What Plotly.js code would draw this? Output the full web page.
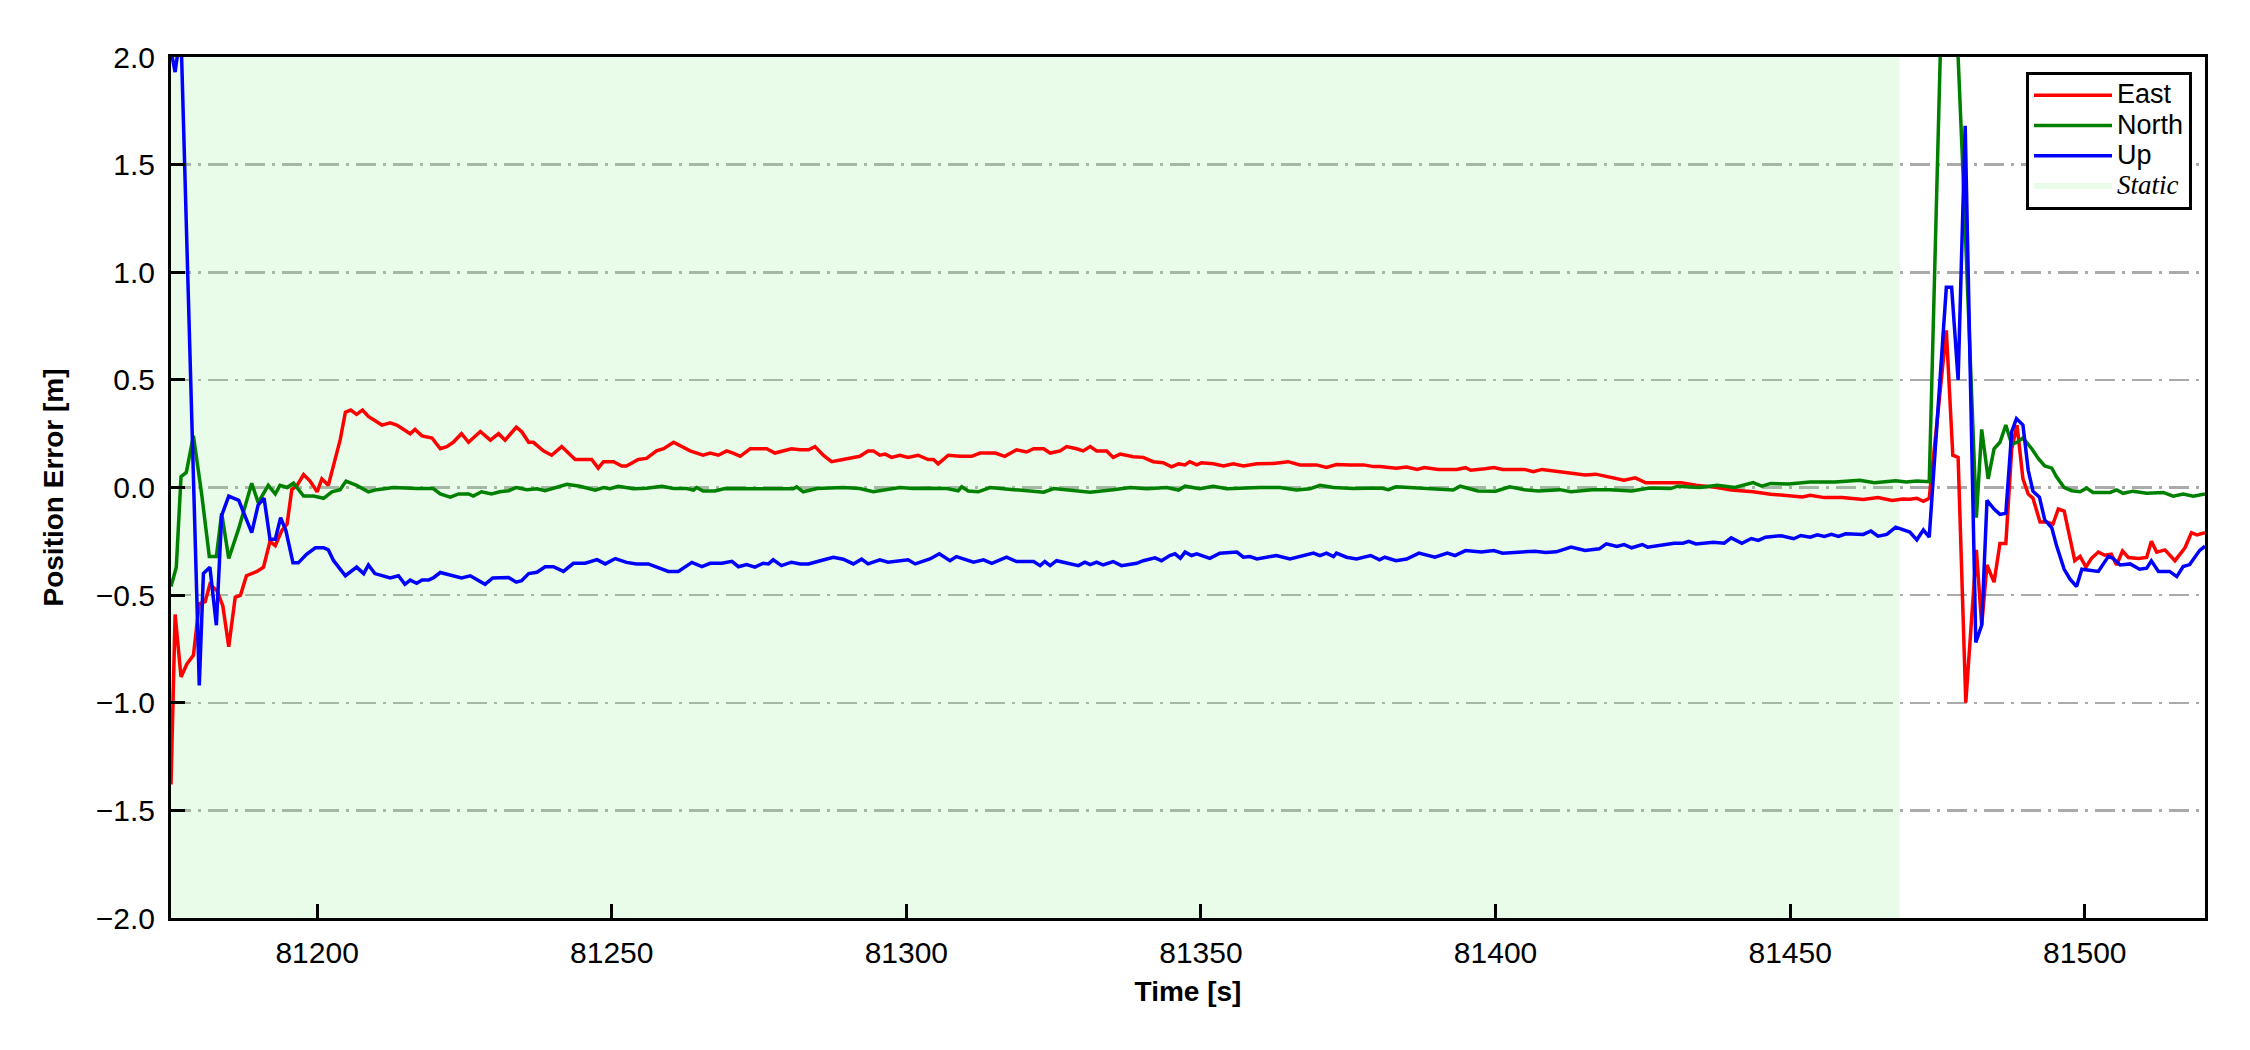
<!DOCTYPE html>
<html>
<head>
<meta charset="utf-8">
<script src="https://cdn.plot.ly/plotly-3.0.1.min.js"></script>
<style>
  html, body { margin: 0; padding: 0; background: #ffffff; }
  #chart { width: 2250px; height: 1050px; }
</style>
</head>
<body>
<div id="chart"></div>
<script>
// ---------------- data ----------------
const eastT = [81175.2,81175.9,81176.9,81177.9,81179.0,81180.0,81181.0,81181.8,81183.0,81184.0,81185.0,81186.1,81187.0,81188.0,81189.8,81190.9,81192.0,81192.9,81194.0,81194.9,81195.7,81196.6,81197.7,81198.8,81200.0,81200.8,81201.9,81202.8,81203.9,81204.8,81205.7,81206.7,81207.7,81208.7,81209.8,81211.0,81212.4,81213.5,81214.1,81215.8,81216.6,81217.8,81219.5,81220.9,81222.0,81223.1,81224.5,81225.7,81227.7,81229.4,81230.8,81231.9,81233.8,81234.7,81235.9,81236.7,81238.4,81239.8,81241.5,81242.6,81243.8,81246.6,81247.7,81248.6,81250.3,81251.7,81252.5,81254.5,81255.9,81257.6,81258.8,81260.5,81261.9,81263.3,81265.5,81266.7,81268.1,81269.5,81270.6,81271.8,81273.5,81275.2,81276.3,81277.7,81279.1,81280.5,81282.0,81283.4,81284.5,81285.9,81287.3,81289.0,81290.7,81292.1,81293.5,81294.4,81295.5,81296.4,81297.5,81298.9,81300.3,81302.0,81303.7,81304.6,81305.4,81307.1,81309.1,81311.1,81312.5,81315.1,81316.7,81318.7,81320.4,81321.6,81323.3,81324.4,81326.1,81327.2,81328.9,81330.0,81331.2,81332.3,81334.0,81335.1,81336.3,81338.5,81340.2,81341.9,81343.6,81345.0,81346.2,81347.3,81348.1,81349.3,81350.1,81352.1,81353.8,81355.5,81357.2,81359.5,81362.3,81364.8,81366.8,81369.6,81371.3,81373.0,81375.3,81377.6,81379.3,81380.4,81383.1,81384.9,81386.7,81387.9,81390.3,81393.4,81394.9,81395.8,81398.2,81399.7,81401.2,81404.9,81406.4,81407.9,81410.9,81413.4,81415.2,81417.0,81419.4,81421.8,81423.7,81425.5,81428.5,81431.5,81434.0,81437.6,81440.0,81443.7,81446.7,81449.7,81452.1,81453.4,81455.8,81458.8,81462.4,81464.9,81467.3,81469.1,81470.3,81471.5,81472.6,81473.6,81476.5,81477.6,81478.5,81479.8,81481.6,81482.5,81483.4,81484.6,81485.6,81486.6,81487.6,81488.5,81489.5,81490.4,81491.2,81492.4,81493.5,81494.6,81495.5,81496.5,81498.3,81499.2,81500.2,81501.1,81502.3,81503.4,81504.5,81505.4,81506.4,81507.4,81509.1,81510.5,81511.3,81512.2,81513.6,81515.3,81517.0,81518.1,81519.0,81520.4];
const eastV = [-1.38,-0.59,-0.88,-0.82,-0.78,-0.54,-0.53,-0.45,-0.48,-0.55,-0.74,-0.51,-0.50,-0.41,-0.39,-0.37,-0.25,-0.27,-0.20,-0.17,-0.01,0.01,0.06,0.03,-0.02,0.04,0.01,0.11,0.22,0.35,0.36,0.34,0.36,0.33,0.31,0.29,0.30,0.29,0.28,0.25,0.27,0.24,0.23,0.18,0.19,0.21,0.25,0.21,0.26,0.22,0.25,0.22,0.28,0.26,0.21,0.21,0.17,0.15,0.19,0.16,0.13,0.13,0.09,0.12,0.12,0.10,0.10,0.13,0.135,0.17,0.18,0.21,0.19,0.17,0.15,0.16,0.15,0.17,0.16,0.145,0.18,0.18,0.18,0.16,0.17,0.18,0.175,0.175,0.19,0.15,0.12,0.13,0.14,0.145,0.17,0.17,0.15,0.155,0.14,0.15,0.14,0.15,0.13,0.13,0.11,0.15,0.145,0.145,0.16,0.16,0.145,0.175,0.165,0.18,0.18,0.16,0.17,0.19,0.18,0.17,0.19,0.17,0.17,0.14,0.155,0.143,0.14,0.12,0.115,0.096,0.11,0.105,0.12,0.105,0.115,0.11,0.10,0.11,0.10,0.11,0.112,0.12,0.105,0.105,0.093,0.107,0.105,0.105,0.097,0.097,0.09,0.095,0.084,0.093,0.084,0.084,0.092,0.08,0.087,0.093,0.084,0.084,0.073,0.084,0.073,0.065,0.058,0.062,0.047,0.034,0.045,0.022,0.022,0.022,0.011,0.0,-0.012,-0.02,-0.031,-0.036,-0.044,-0.036,-0.047,-0.047,-0.056,-0.047,-0.06,-0.053,-0.055,-0.05,-0.064,-0.05,0.73,0.15,0.14,-1.0,-0.29,-0.64,-0.36,-0.44,-0.26,-0.26,0.18,0.29,0.04,-0.03,-0.05,-0.16,-0.16,-0.17,-0.10,-0.11,-0.34,-0.32,-0.37,-0.33,-0.30,-0.315,-0.31,-0.36,-0.295,-0.325,-0.33,-0.325,-0.25,-0.30,-0.29,-0.34,-0.28,-0.21,-0.22,-0.21];

const northT = [81175.2,81176.1,81176.9,81177.8,81179.0,81180.4,81181.7,81182.9,81183.8,81185.0,81186.7,81188.9,81190.0,81191.7,81192.9,81193.7,81194.9,81196.0,81197.7,81199.4,81201.1,81202.5,81203.9,81204.9,81206.7,81208.7,81210.1,81213.0,81216.9,81219.7,81220.9,81222.6,81224.0,81225.7,81226.5,81227.9,81229.6,81231.0,81232.5,81233.8,81235.6,81237.3,81238.7,81240.7,81242.4,81244.6,81247.2,81248.6,81249.7,81251.1,81253.7,81255.9,81258.5,81260.5,81262.7,81263.9,81264.4,81265.5,81267.5,81269.2,81270.6,81275.7,81280.8,81281.4,81282.5,81284.8,81289.3,81292.1,81294.4,81298.9,81301.2,81304.0,81306.9,81308.8,81309.4,81310.5,81312.2,81314.2,81318.2,81323.3,81325.0,81328.3,81331.2,81335.1,81338.0,81340.8,81344.2,81346.2,81347.3,81349.8,81352.1,81354.4,81357.8,81360.0,81363.4,81366.2,81368.5,81370.2,81372.5,81375.9,81380.6,81381.8,81383.1,81389.1,81392.8,81394.0,81397.0,81400.0,81402.4,81404.9,81407.3,81410.9,81412.8,81416.4,81419.4,81423.1,81426.1,81429.7,81430.9,81434.6,81437.6,81440.6,81443.7,81445.2,81446.7,81449.7,81453.4,81457.6,81459.4,81461.8,81464.3,81467.9,81469.7,81471.5,81473.6,81474.6,81476.5,81477.6,81478.5,81479.5,81480.5,81481.6,81482.5,81483.6,81484.6,81485.6,81486.6,81487.6,81488.5,81489.5,81491.0,81492.1,81493.2,81494.4,81495.2,81496.5,81497.8,81499.2,81500.3,81501.4,81504.3,81505.4,81506.5,81508.2,81510.5,81513.3,81515.0,81516.7,81518.4,81520.4];
const northV = [-0.46,-0.37,0.05,0.07,0.24,-0.03,-0.32,-0.32,-0.12,-0.33,-0.19,0.02,-0.07,0.01,-0.03,0.01,0.0,0.02,-0.04,-0.04,-0.05,-0.02,-0.01,0.03,0.01,-0.02,-0.01,0.0,-0.005,-0.005,-0.03,-0.045,-0.03,-0.03,-0.04,-0.02,-0.03,-0.02,-0.015,0.0,-0.01,-0.006,-0.015,0.003,0.015,0.006,-0.012,0.0,-0.006,0.006,-0.006,-0.003,0.006,-0.005,-0.005,-0.012,0.0,-0.016,-0.016,-0.005,-0.006,-0.006,-0.006,0.003,-0.02,-0.005,0.0,-0.005,-0.02,0.0,-0.005,-0.003,-0.005,-0.016,0.003,-0.016,-0.02,0.0,-0.01,-0.022,-0.005,-0.012,-0.022,-0.01,0.0,-0.006,0.0,-0.012,0.006,-0.006,0.006,-0.006,0.0,0.0,0.0,-0.012,-0.006,0.01,0.0,-0.005,-0.002,-0.01,0.003,-0.005,-0.012,0.006,-0.016,-0.017,0.003,-0.01,-0.016,-0.01,-0.02,-0.01,-0.01,-0.016,-0.002,-0.005,0.006,0.0,0.01,0.0,0.023,0.006,0.019,0.016,0.026,0.026,0.03,0.034,0.022,0.031,0.026,0.03,0.027,1.05,3.1,2.9,2.0,1.35,0.65,-0.14,0.27,0.04,0.18,0.21,0.29,0.20,0.21,0.23,0.18,0.135,0.10,0.09,0.05,0.0,-0.015,-0.02,-0.003,-0.023,-0.023,-0.011,-0.027,-0.017,-0.027,-0.023,-0.04,-0.03,-0.04,-0.03];

const upT = [81175.2,81175.9,81176.5,81176.9,81180.0,81180.7,81181.8,81182.9,81183.8,81185.0,81186.7,81188.9,81190.0,81191.0,81192.0,81192.9,81193.8,81194.7,81195.9,81196.8,81198.2,81199.7,81201.1,81201.9,81202.8,81204.8,81206.7,81207.9,81208.7,81209.8,81212.4,81213.8,81214.9,81215.8,81216.9,81217.8,81218.9,81219.7,81220.9,81222.6,81224.5,81226.0,81227.4,81228.5,81229.8,81231.0,81232.5,81233.8,81234.7,81235.9,81237.3,81238.7,81240.1,81241.8,81243.5,81245.5,81247.5,81248.9,81250.6,81252.5,81254.2,81256.2,81257.9,81259.6,81261.3,81263.6,81265.3,81266.7,81268.7,81270.4,81271.5,81272.9,81274.3,81275.7,81276.6,81277.4,81278.8,81280.5,81282.0,81283.4,81285.4,81287.6,81289.3,81291.0,81292.4,81293.5,81295.5,81296.9,81300.3,81301.5,81304.0,81305.6,81307.4,81308.5,81311.4,81313.1,81314.5,81317.0,81318.7,81321.6,81322.7,81323.5,81324.4,81325.5,81329.2,81330.3,81331.2,81332.3,81333.4,81335.1,81336.5,81339.1,81340.2,81342.2,81343.3,81344.7,81345.6,81346.5,81347.3,81348.4,81349.3,81351.5,81353.2,81356.1,81357.2,81358.3,81359.5,81362.8,81365.1,81367.7,81369.1,81370.2,81371.3,81372.5,81373.0,81374.7,81376.4,81378.8,81380.3,81381.2,81383.1,81384.9,81387.0,81389.7,81391.8,81393.1,81394.9,81397.6,81399.7,81401.2,81404.3,81406.7,81408.5,81410.3,81412.8,81415.2,81417.6,81418.8,81420.6,81421.8,81423.1,81424.9,81425.8,81427.9,81430.3,81431.8,81432.8,81434.0,81437.0,81438.8,81440.0,81441.8,81443.4,81444.6,81445.8,81448.5,81450.6,81451.8,81453.4,81454.6,81455.8,81457.0,81458.2,81459.4,81462.4,81463.7,81464.9,81466.4,81467.9,81470.3,81471.5,81472.6,81473.6,81476.5,81477.4,81478.5,81479.7,81481.5,81482.5,81483.4,81484.6,81485.6,81486.6,81487.6,81488.4,81489.5,81490.4,81491.2,81492.3,81493.2,81494.4,81495.2,81496.5,81497.5,81498.6,81499.5,81500.9,81502.3,81504.0,81504.8,81506.0,81507.7,81509.3,81510.5,81511.3,81512.5,81514.4,81515.6,81516.7,81517.8,81519.5,81520.4];
const upV = [2.03,1.93,2.05,2.1,-0.92,-0.40,-0.37,-0.64,-0.13,-0.04,-0.06,-0.21,-0.08,-0.05,-0.24,-0.24,-0.14,-0.20,-0.35,-0.35,-0.31,-0.28,-0.28,-0.29,-0.34,-0.41,-0.37,-0.40,-0.36,-0.40,-0.42,-0.41,-0.45,-0.43,-0.445,-0.43,-0.43,-0.42,-0.395,-0.405,-0.42,-0.41,-0.433,-0.45,-0.42,-0.42,-0.418,-0.44,-0.433,-0.40,-0.394,-0.368,-0.368,-0.39,-0.352,-0.352,-0.335,-0.355,-0.33,-0.348,-0.355,-0.355,-0.374,-0.39,-0.39,-0.348,-0.368,-0.352,-0.352,-0.343,-0.368,-0.358,-0.37,-0.352,-0.355,-0.336,-0.363,-0.347,-0.355,-0.355,-0.34,-0.324,-0.333,-0.355,-0.333,-0.355,-0.336,-0.347,-0.336,-0.355,-0.332,-0.308,-0.34,-0.321,-0.347,-0.336,-0.352,-0.324,-0.344,-0.344,-0.363,-0.344,-0.363,-0.34,-0.363,-0.347,-0.358,-0.347,-0.36,-0.344,-0.363,-0.352,-0.34,-0.327,-0.34,-0.316,-0.308,-0.329,-0.30,-0.316,-0.308,-0.329,-0.305,-0.30,-0.324,-0.321,-0.332,-0.316,-0.332,-0.316,-0.305,-0.316,-0.305,-0.321,-0.305,-0.324,-0.332,-0.316,-0.336,-0.324,-0.34,-0.332,-0.305,-0.324,-0.305,-0.316,-0.293,-0.30,-0.293,-0.305,-0.30,-0.296,-0.302,-0.299,-0.277,-0.293,-0.285,-0.262,-0.274,-0.265,-0.28,-0.265,-0.277,-0.27,-0.259,-0.259,-0.25,-0.262,-0.254,-0.259,-0.234,-0.259,-0.237,-0.246,-0.231,-0.224,-0.238,-0.223,-0.231,-0.22,-0.227,-0.218,-0.227,-0.215,-0.218,-0.202,-0.226,-0.218,-0.184,-0.207,-0.243,-0.197,-0.23,0.93,0.93,0.50,1.68,-0.72,-0.64,-0.06,-0.10,-0.125,-0.12,0.26,0.32,0.29,0.08,-0.017,-0.045,-0.15,-0.187,-0.27,-0.38,-0.426,-0.46,-0.38,-0.386,-0.39,-0.32,-0.33,-0.36,-0.355,-0.38,-0.375,-0.341,-0.39,-0.39,-0.414,-0.367,-0.358,-0.292,-0.273];

const staticStart = 81175.0;
const staticEnd = 81468.6;
const xRange = [81175.2, 81520.4];
const yRange = [-2, 2];
const xTicks = [81200, 81250, 81300, 81350, 81400, 81450, 81500];
const yTicks = [-2.0, -1.5, -1.0, -0.5, 0.0, 0.5, 1.0, 1.5, 2.0];
const seriesNames = ['East', 'North', 'Up'];
const staticName = 'Static';
const seriesColors = ['#ff0000', '#008000', '#0000ff'];

// ---------------- chart ----------------
const FONT = 'Liberation Sans, Arial, Helvetica, sans-serif';
const legendLabel = (txt, extraStyle) =>
  '<span style="font-size:27px' + (extraStyle || '') + '">' + txt + '</span>';

const traces = [
  {
    x: [staticStart, staticEnd, staticEnd, staticStart],
    y: [yRange[0], yRange[0], yRange[1], yRange[1]],
    type: 'scatter', mode: 'none', fill: 'toself',
    fillcolor: 'rgba(144,238,144,0.2)',
    name: legendLabel(staticName, ';font-family:\'Liberation Serif\',\'Times New Roman\',serif;font-style:italic'),
    legendrank: 4, hoverinfo: 'skip'
  },
  { x: eastT, y: eastV, type: 'scatter', mode: 'lines', name: legendLabel(seriesNames[0]),
    line: { color: seriesColors[0], width: 3.5 }, legendrank: 1 },
  { x: northT, y: northV, type: 'scatter', mode: 'lines', name: legendLabel(seriesNames[1]),
    line: { color: seriesColors[1], width: 3.5 }, legendrank: 2 },
  { x: upT, y: upV, type: 'scatter', mode: 'lines', name: legendLabel(seriesNames[2]),
    line: { color: seriesColors[2], width: 3.5 }, legendrank: 3 }
];

const layout = {
  width: 2250, height: 1050,
  margin: { l: 171, r: 45, t: 57, b: 132, pad: 0 },
  paper_bgcolor: '#ffffff', plot_bgcolor: '#ffffff',
  font: { family: FONT, color: '#000000', size: 30 },
  showlegend: true,
  legend: {
    x: 0.9936, y: 0.9826, xanchor: 'right', yanchor: 'top',
    bgcolor: '#ffffff', bordercolor: '#000000', borderwidth: 3,
    font: { family: FONT, size: 21, color: '#000000' },
    itemwidth: 78, tracegroupgap: 0
  },
  xaxis: {
    range: xRange, tickmode: 'array', tickvals: xTicks,
    ticktext: xTicks.map(String),
    ticks: 'inside', ticklen: 14, tickwidth: 3, tickcolor: '#000000',
    showline: true, linewidth: 3, linecolor: '#000000', mirror: true,
    showgrid: false, zeroline: false,
    tickfont: { family: FONT, size: 30, color: '#000000' },
    ticklabelstandoff: 6,
    title: { text: 'Time [s]', font: { family: FONT, size: 28, weight: 'bold', color: '#000000' }, standoff: 14 }
  },
  yaxis: {
    range: yRange, tickmode: 'array', tickvals: yTicks,
    ticktext: yTicks.map(v => (v < 0 ? '\u2212' : '') + Math.abs(v).toFixed(1)),
    ticks: 'inside', ticklen: 14, tickwidth: 3, tickcolor: '#000000',
    showline: true, linewidth: 3, linecolor: '#000000', mirror: true,
    showgrid: true, gridcolor: '#aaaaaa', gridwidth: 2.5, griddash: '20px,7px,3px,7px',
    zeroline: false,
    tickfont: { family: FONT, size: 30, color: '#000000' },
    ticklabelstandoff: 7,
    title: { text: 'Position Error [m]', font: { family: FONT, size: 28, weight: 'bold', color: '#000000' }, standoff: 24 }
  }
};

Plotly.newPlot('chart', traces, layout, { staticPlot: true, displayModeBar: false });
</script>
</body>
</html>
